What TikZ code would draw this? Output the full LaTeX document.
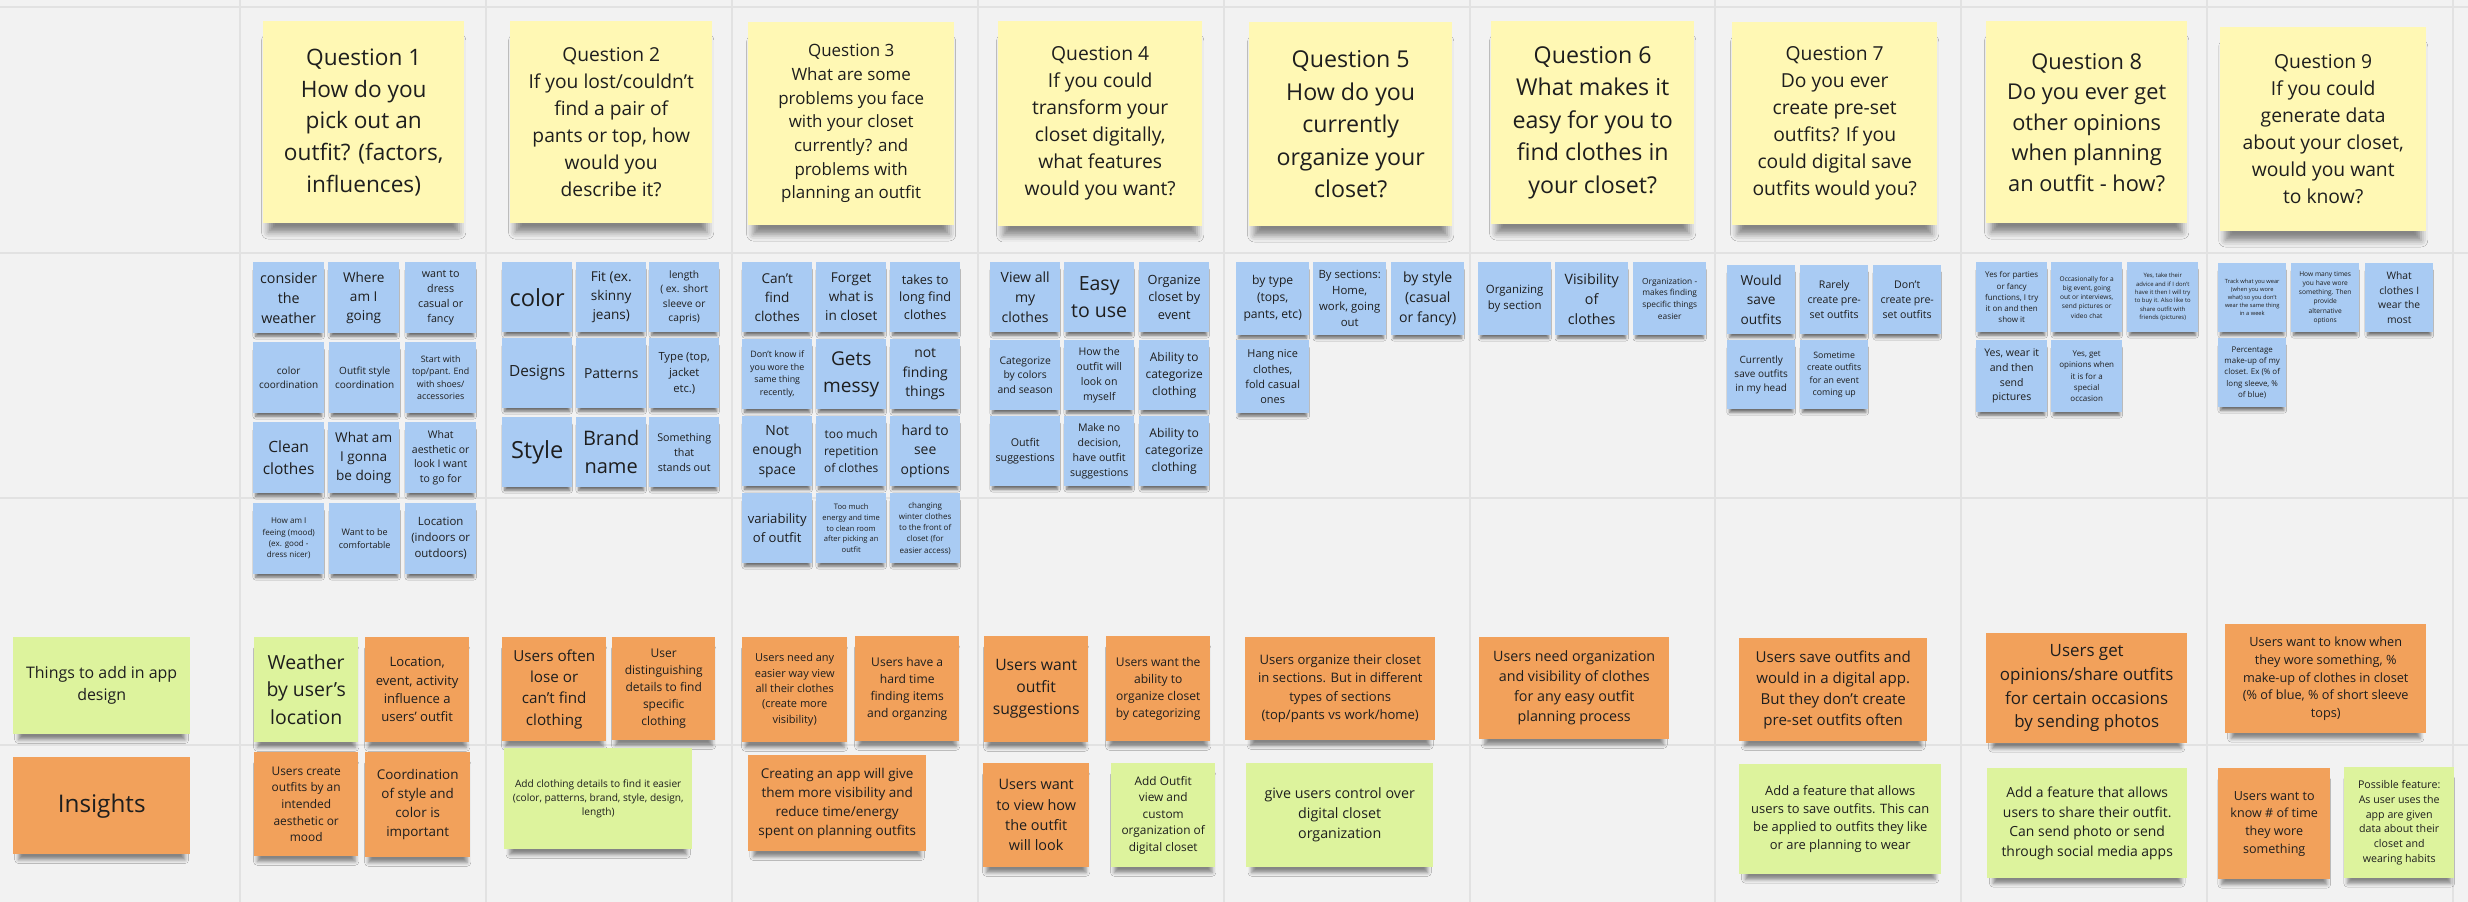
\documentclass[tikz,border=0pt]{standalone}
\usepackage{fontspec}
\setmainfont{Open Sans}
\usetikzlibrary{shadows.blur}
\definecolor{bg}{HTML}{F2F2F2}
\definecolor{gridc}{HTML}{E2E2E2}
\definecolor{yel}{HTML}{FFF8B4}
\definecolor{blu}{HTML}{A9CBF3}
\definecolor{ora}{HTML}{F2A15B}
\definecolor{gre}{HTML}{DDF39D}
\definecolor{ink}{HTML}{1E1E1E}
\newcommand\fs[1]{\fontsize{\fpeval{#1/1.4}}{#1}\selectfont}
\newcommand\sn[8]{\node[#1,anchor=north west,minimum width=#5pt,minimum height=#6pt,font=\fs{#7}] (#2) at (#3,#4) {#8};}
\begin{document}
\begin{tikzpicture}[x=1pt,y=-1pt,
  note/.style={inner sep=0pt, align=center, text=ink},
  qn/.style={note, fill=yel, blur shadow={shadow xshift=0pt, shadow yshift=-15pt, shadow scale=0.95, shadow blur radius=7pt, shadow opacity=45}},
  bn/.style={note, fill=blu, blur shadow={shadow xshift=0pt, shadow yshift=-6pt, shadow scale=0.93, shadow blur radius=3pt, shadow opacity=55}},
  on/.style={note, fill=ora, blur shadow={shadow xshift=0pt, shadow yshift=-9pt, shadow scale=0.94, shadow blur radius=4pt, shadow opacity=45}},
  gn/.style={note, fill=gre, blur shadow={shadow xshift=0pt, shadow yshift=-9pt, shadow scale=0.94, shadow blur radius=4pt, shadow opacity=45}},
  gl/.style={draw=gridc, line width=2.5pt}]
\fill[bg] (0,0) rectangle (2468,902);
\useasboundingbox (0,0) rectangle (2468,902);
\foreach \x in {240,486,732,978,1224,1470,1715,1961,2207,2453} \draw[gl] (\x,0) -- (\x,902);
\foreach \y in {7,253,498,745} \draw[gl] (0,\y) -- (2468,\y);
% questions
\sn{qn}{q1}{263}{21}{201}{202}{31.7}{Question 1\\How do you\\pick out an\\outfit? (factors,\\influences)}
\sn{qn}{q2}{510}{21}{202}{202}{26.9}{Question 2\\If you lost/couldn’t\\find a pair of\\pants or top, how\\would you\\describe it?}
\sn{qn}{q3}{748}{22}{206}{203}{23.7}{Question 3\\What are some\\problems you face\\with your closet\\currently? and\\problems with\\planning an outfit}
\sn{qn}{q4}{998}{21}{204}{205}{27}{Question 4\\If you could\\transform your\\closet digitally,\\what features\\would you want?}
\sn{qn}{q5}{1249}{22}{203}{204}{32.5}{Question 5\\How do you\\currently\\organize your\\closet?}
\sn{qn}{q6}{1491}{21}{203}{203}{32.5}{Question 6\\What makes it\\easy for you to\\find clothes in\\your closet?}
\sn{qn}{q7}{1732}{22}{205}{203}{27}{Question 7\\Do you ever\\create pre-set\\outfits? If you\\could digital save\\outfits would you?}
\sn{qn}{q8}{1986}{21}{201}{202}{30.5}{Question 8\\Do you ever get\\other opinions\\when planning\\an outfit - how?}
\sn{qn}{q9}{2220}{27}{206}{204}{27}{Question 9\\If you could\\generate data\\about your closet,\\would you want\\to know?}
% Q1 answers
\sn{bn}{a11}{253}{262}{71}{71}{20}{consider\\the\\weather}
\sn{bn}{a12}{328}{262}{71}{71}{19}{Where\\am I\\going}
\sn{bn}{a13}{405}{262}{71}{71}{15}{want to\\dress\\casual or\\fancy}
\sn{bn}{a21}{253}{342}{71}{71}{14}{color\\coordination}
\sn{bn}{a22}{329}{342}{71}{71}{14}{Outfit style\\coordination}
\sn{bn}{a23}{405}{342}{71}{71}{12.4}{Start with\\top/pant. End\\with shoes/\\accessories}
\sn{bn}{a31}{253}{422}{71}{71}{21.7}{Clean\\clothes}
\sn{bn}{a32}{328}{422}{71}{71}{19}{What am\\I gonna\\be doing}
\sn{bn}{a33}{405}{422}{71}{71}{14.7}{What\\aesthetic or\\look I want\\to go for}
\sn{bn}{a41}{253}{503}{71}{71}{11.3}{How am I\\feeing (mood)\\(ex. good -\\dress nicer)}
\sn{bn}{a42}{329}{503}{71}{71}{12.7}{Want to be\\comfortable}
\sn{bn}{a43}{405}{503}{71}{71}{16}{Location\\(indoors or\\outdoors)}
% Q2 answers
\sn{bn}{b11}{502}{262}{70}{70}{33}{color}
\sn{bn}{b12}{576}{262}{70}{70}{19}{Fit (ex.\\skinny\\jeans)}
\sn{bn}{b13}{649}{262}{70}{70}{14.3}{length\\( ex. short\\sleeve or\\capris)}
\sn{bn}{b21}{502}{338}{70}{70}{21.5}{Designs}
\sn{bn}{b22}{576}{338}{70}{70}{19.4}{Patterns}
\sn{bn}{b23}{649}{338}{70}{70}{15.7}{Type (top,\\jacket\\etc.)}
\sn{bn}{b31}{502}{417}{70}{70}{33}{Style}
\sn{bn}{b32}{576}{417}{70}{70}{28}{Brand\\name}
\sn{bn}{b33}{649}{417}{70}{70}{15}{Something\\that\\stands out}
% Q3 answers
\sn{bn}{c11}{742}{262}{70}{70}{19}{Can't\\find\\clothes}
\sn{bn}{c12}{816}{262}{70}{70}{19}{Forget\\what is\\in closet}
\sn{bn}{c13}{890}{262}{70}{70}{17.8}{takes to\\long find\\clothes}
\sn{bn}{c21}{742}{339}{70}{70}{12.4}{Don't know if\\you wore the\\same thing\\recently,}
\sn{bn}{c22}{816}{339}{70}{70}{26.7}{Gets\\messy}
\sn{bn}{c23}{890}{339}{70}{70}{19.5}{not\\finding\\things}
\sn{bn}{c31}{742}{416}{70}{70}{19.5}{Not\\enough\\space}
\sn{bn}{c32}{816}{416}{70}{70}{16.7}{too much\\repetition\\of clothes}
\sn{bn}{c33}{890}{416}{70}{70}{19.5}{hard to\\see\\options}
\sn{bn}{c41}{742}{493}{70}{70}{18.3}{variability\\of outfit}
\sn{bn}{c42}{816}{493}{70}{70}{10.6}{Too much\\energy and time\\to clean room\\after picking an\\outfit}
\sn{bn}{c43}{890}{493}{70}{70}{11.2}{changing\\winter clothes\\to the front of\\closet (for\\easier access)}
% Q4 answers
\sn{bn}{d11}{990}{262}{70}{70}{19.7}{View all\\my\\clothes}
\sn{bn}{d12}{1064}{262}{70}{70}{27.3}{Easy\\to use}
\sn{bn}{d13}{1139}{262}{70}{70}{17.8}{Organize\\closet by\\event}
\sn{bn}{d21}{990}{340}{70}{70}{14.5}{Categorize\\by colors\\and season}
\sn{bn}{d22}{1064}{340}{70}{70}{14.8}{How the\\outfit will\\look on\\myself}
\sn{bn}{d23}{1139}{340}{70}{70}{16.7}{Ability to\\categorize\\clothing}
\sn{bn}{d31}{990}{416}{70}{70}{15}{Outfit\\suggestions}
\sn{bn}{d32}{1064}{416}{70}{70}{14.8}{Make no\\decision,\\have outfit\\suggestions}
\sn{bn}{d33}{1139}{416}{70}{70}{17}{Ability to\\categorize\\clothing}
% Q5 answers
\sn{bn}{e11}{1236}{262}{73}{73}{17}{by type\\(tops,\\pants, etc)}
\sn{bn}{e12}{1313}{262}{73}{73}{15.9}{By sections:\\Home,\\work, going\\out}
\sn{bn}{e13}{1391}{262}{73}{73}{19.7}{by style\\(casual\\or fancy)}
\sn{bn}{e21}{1236}{340}{73}{73}{15.3}{Hang nice\\clothes,\\fold casual\\ones}
% Q6 answers
\sn{bn}{f11}{1478}{262}{73}{73}{16}{Organizing\\by section}
\sn{bn}{f12}{1555}{262}{73}{73}{20}{Visibility\\of\\clothes}
\sn{bn}{f13}{1633}{262}{73}{73}{11.7}{Organization -\\makes finding\\specific things\\easier}
% Q7 answers
\sn{bn}{g11}{1727}{265}{68}{69}{19.2}{Would\\save\\outfits}
\sn{bn}{g12}{1800}{265}{68}{69}{14.8}{Rarely\\create pre-\\set outfits}
\sn{bn}{g13}{1873}{265}{68}{69}{14.8}{Don't\\create pre-\\set outfits}
\sn{bn}{g21}{1727}{340}{68}{69}{14}{Currently\\save outfits\\in my head}
\sn{bn}{g22}{1800}{340}{68}{69}{12.3}{Sometime\\create outfits\\for an event\\coming up}
% Q8 answers
\sn{bn}{h11}{1976}{262}{71}{70}{11.2}{Yes for parties\\or fancy\\functions, I try\\it on and then\\show it}
\sn{bn}{h12}{2051}{262}{71}{70}{9.2}{Occasionally for a\\big event, going\\out or interviews,\\send pictures or\\video chat}
\sn{bn}{h13}{2127}{262}{71}{70}{8.3}{Yes, take their\\advice and if I don't\\have it then I will try\\to buy it. Also like to\\share outfit with\\friends (pictures)}
\sn{bn}{h21}{1976}{340}{71}{72}{14.7}{Yes, wear it\\and then\\send\\pictures}
\sn{bn}{h22}{2051}{340}{71}{72}{11.2}{Yes, get\\opinions when\\it is for a\\special\\occasion}
% Q9 answers
\sn{bn}{i11}{2218}{263}{68}{69}{8}{Track what you wear\\(when you wore\\what) so you don't\\wear the same thing\\in a week}
\sn{bn}{i12}{2291}{263}{68}{69}{9.3}{How many times\\you have wore\\something. Then\\provide\\alternative\\options}
\sn{bn}{i13}{2365}{263}{68}{69}{14.4}{What\\clothes I\\wear the\\most}
\sn{bn}{i21}{2218}{338}{68}{69}{11.1}{Percentage\\make-up of my\\closet. Ex (\% of\\long sleeve, \%\\of blue)}
% bottom rows
\sn{gn}{tadd}{13}{637}{177}{97}{22.3}{Things to add in app\\design}
\sn{on}{ins}{13}{757}{177}{97}{34}{Insights}
\sn{gn}{t1a}{254}{637}{104}{105}{27.2}{Weather\\by user's\\location}
\sn{on}{t1b}{365}{637}{104}{105}{18.3}{Location,\\event, activity\\influence a\\users' outfit}
\sn{on}{n1a}{254}{752}{104}{104}{16.7}{Users create\\outfits by an\\intended\\aesthetic or\\mood}
\sn{on}{n1b}{365}{752}{105}{105}{18.8}{Coordination\\of style and\\color is\\important}
\sn{on}{t2a}{502}{637}{104}{104}{21.3}{Users often\\lose or\\can't find\\clothing}
\sn{on}{t2b}{612}{637}{103}{103}{16.8}{User\\distinguishing\\details to find\\specific\\clothing}
\sn{gn}{n2a}{504}{748}{188}{101}{14.2}{Add clothing details to find it easier\\(color, patterns, brand, style, design,\\length)}
\sn{on}{t3a}{742}{637}{105}{105}{15.4}{Users need any\\easier way view\\all their clothes\\(create more\\visibility)}
\sn{on}{t3b}{855}{636}{104}{105}{16.9}{Users have a\\hard time\\finding items\\and organzing}
\sn{on}{n3a}{748}{755}{178}{96}{18.9}{Creating an app will give\\them more visibility and\\reduce time/energy\\spent on planning outfits}
\sn{on}{t4a}{984}{636}{104}{106}{22}{Users want\\outfit\\suggestions}
\sn{on}{t4b}{1106}{636}{104}{105}{16.9}{Users want the\\ability to\\organize closet\\by categorizing}
\sn{on}{n4a}{983}{763}{106}{104}{20.2}{Users want\\to view how\\the outfit\\will look}
\sn{gn}{n4b}{1111}{763}{104}{104}{16.6}{Add Outfit\\view and\\custom\\organization of\\digital closet}
\sn{on}{t5a}{1245}{637}{190}{103}{18.3}{Users organize their closet\\in sections. But in different\\types of sections\\(top/pants vs work/home)}
\sn{gn}{n5a}{1246}{763}{187}{104}{20}{give users control over\\digital closet\\organization}
\sn{on}{t6a}{1479}{637}{190}{102}{20}{Users need organization\\and visibility of clothes\\for any easy outfit\\planning process}
\sn{on}{t7a}{1739}{638}{188}{103}{21.1}{Users save outfits and\\would in a digital app.\\But they don't create\\pre-set outfits often}
\sn{gn}{n7a}{1739}{764}{202}{110}{18.1}{Add a feature that allows\\users to save outfits. This can\\be applied to outfits they like\\or are planning to wear}
\sn{on}{t8a}{1986}{633}{201}{110}{23.7}{Users get\\opinions/share outfits\\for certain occasions\\by sending photos}
\sn{gn}{n8a}{1987}{768}{200}{110}{19.5}{Add a feature that allows\\users to share their outfit.\\Can send photo or send\\through social media apps}
\sn{on}{t9a}{2225}{624}{201}{109}{17.8}{Users want to know when\\they wore something, \%\\make-up of clothes in closet\\(\% of blue, \% of short sleeve\\tops)}
\sn{on}{n9a}{2218}{768}{112}{111}{17.6}{Users want to\\know \# of time\\they wore\\something}
\sn{gn}{n9b}{2344}{767}{110}{111}{14.9}{Possible feature:\\As user uses the\\app are given\\data about their\\closet and\\wearing habits}
\end{tikzpicture}
\end{document}
